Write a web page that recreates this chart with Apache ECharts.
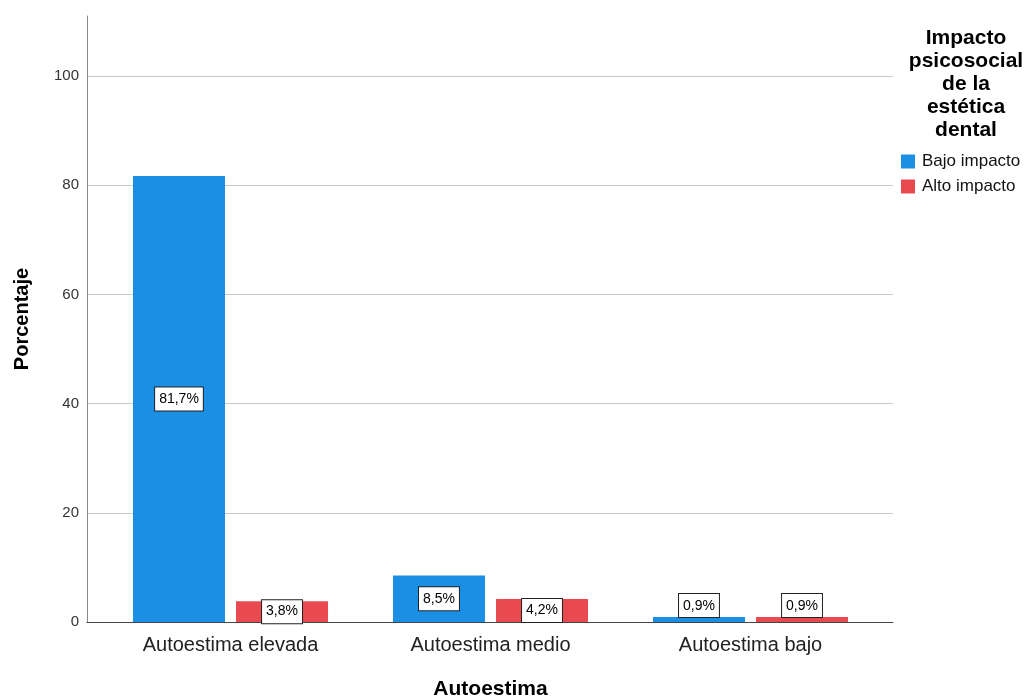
<!DOCTYPE html>
<html>
<head>
<meta charset="utf-8">
<script src="https://cdn.jsdelivr.net/npm/echarts@6/dist/echarts.min.js"></script>
<style>
html,body{margin:0;padding:0;background:#fff;}
#chart{width:1032px;height:700px;}
</style>
</head>
<body>
<div id="chart"></div>
<script>
const categories = ['Autoestima elevada', 'Autoestima medio', 'Autoestima bajo'];
const seriesNames = ['Bajo impacto', 'Alto impacto'];
const bajoImpacto = [81.7, 8.5, 0.9];
const altoImpacto = [3.8, 4.2, 0.9];
const legendTitle = 'Impacto\npsicosocial\nde la\nestética\ndental';
const yTitle = 'Porcentaje';
const xTitle = 'Autoestima';

const FONT = 'Liberation Sans, Arial, sans-serif';
const colors = ['#1a8fe3', '#e84a4f'];

function labelFor(v) {
  return {
    value: v,
    label: v < 2 ? { position: 'top', distance: 0 } : { position: 'inside' }
  };
}

const labelStyle = {
  show: true,
  formatter: p => p.value.toFixed(1).replace('.', ',') + '%',
  fontFamily: FONT,
  fontSize: 14,
  color: '#000',
  backgroundColor: '#fff',
  borderColor: '#222',
  borderWidth: 1,
  padding: [5, 4, 4, 4]
};

const chart = echarts.init(document.getElementById('chart'), null, { renderer: 'canvas' });
chart.setOption({
  animation: false,
  backgroundColor: '#fff',
  color: colors,
  title: {
    text: legendTitle,
    left: 966,
    top: 27,
    textAlign: 'center',
    padding: 0,
    textStyle: {
      fontFamily: FONT,
      fontSize: 21,
      fontWeight: 'bold',
      color: '#000',
      lineHeight: 23,
      align: 'center'
    }
  },
  legend: {
    orient: 'vertical',
    left: 901,
    top: 153,
    itemWidth: 14,
    itemHeight: 14,
    itemGap: 8,
    icon: 'rect',
    padding: 0,
    data: seriesNames,
    textStyle: { fontFamily: FONT, fontSize: 17, color: '#111', padding: [0, 0, 0, 2] }
  },
  grid: [
    { left: 87, right: 139, top: 16, bottom: 78, containLabel: false, outerBoundsMode: 'none' },
    { left: 100.5, right: 151.5, top: 16, bottom: 78, containLabel: false, outerBoundsMode: 'none' }
  ],
  xAxis: [
    {
      gridIndex: 0, type: 'category', data: [''],
      axisLine: { show: true, lineStyle: { color: '#444', width: 1 } },
      axisTick: { show: false }, axisLabel: { show: false }, splitLine: { show: false }
    },
    {
      gridIndex: 1, type: 'category', data: categories,
      axisLine: { show: false }, axisTick: { show: false },
      axisLabel: { fontFamily: FONT, fontSize: 20, color: '#222', margin: 13 },
      name: xTitle, nameLocation: 'middle', nameGap: 57,
      nameTextStyle: { fontFamily: FONT, fontSize: 21, fontWeight: 'bold', color: '#000' }
    }
  ],
  yAxis: [
    {
      gridIndex: 0, type: 'value', min: 0, max: 111, interval: 20,
      axisLine: { show: true, lineStyle: { color: '#888', width: 1 } },
      axisTick: { show: false },
      axisLabel: { fontFamily: FONT, fontSize: 15, color: '#333', margin: 8, showMaxLabel: false },
      splitLine: { show: true, showMaxLine: false, showMinLine: false, lineStyle: { color: '#c8c8c8', width: 1 } },
      name: yTitle, nameLocation: 'middle', nameGap: 55, nameRotate: 90,
      nameTextStyle: { fontFamily: FONT, fontSize: 20, fontWeight: 'bold', color: '#000' }
    },
    {
      gridIndex: 1, type: 'value', min: 0, max: 111, show: false
    }
  ],
  series: [
    {
      name: seriesNames[0], type: 'bar', xAxisIndex: 1, yAxisIndex: 1,
      barWidth: 92, barGap: '12%',
      data: bajoImpacto.map(labelFor),
      itemStyle: { color: colors[0] },
      label: labelStyle
    },
    {
      name: seriesNames[1], type: 'bar', xAxisIndex: 1, yAxisIndex: 1,
      barWidth: 92, barGap: '12%',
      data: altoImpacto.map(labelFor),
      itemStyle: { color: colors[1] },
      label: labelStyle
    }
  ]
});
</script>
</body>
</html>
